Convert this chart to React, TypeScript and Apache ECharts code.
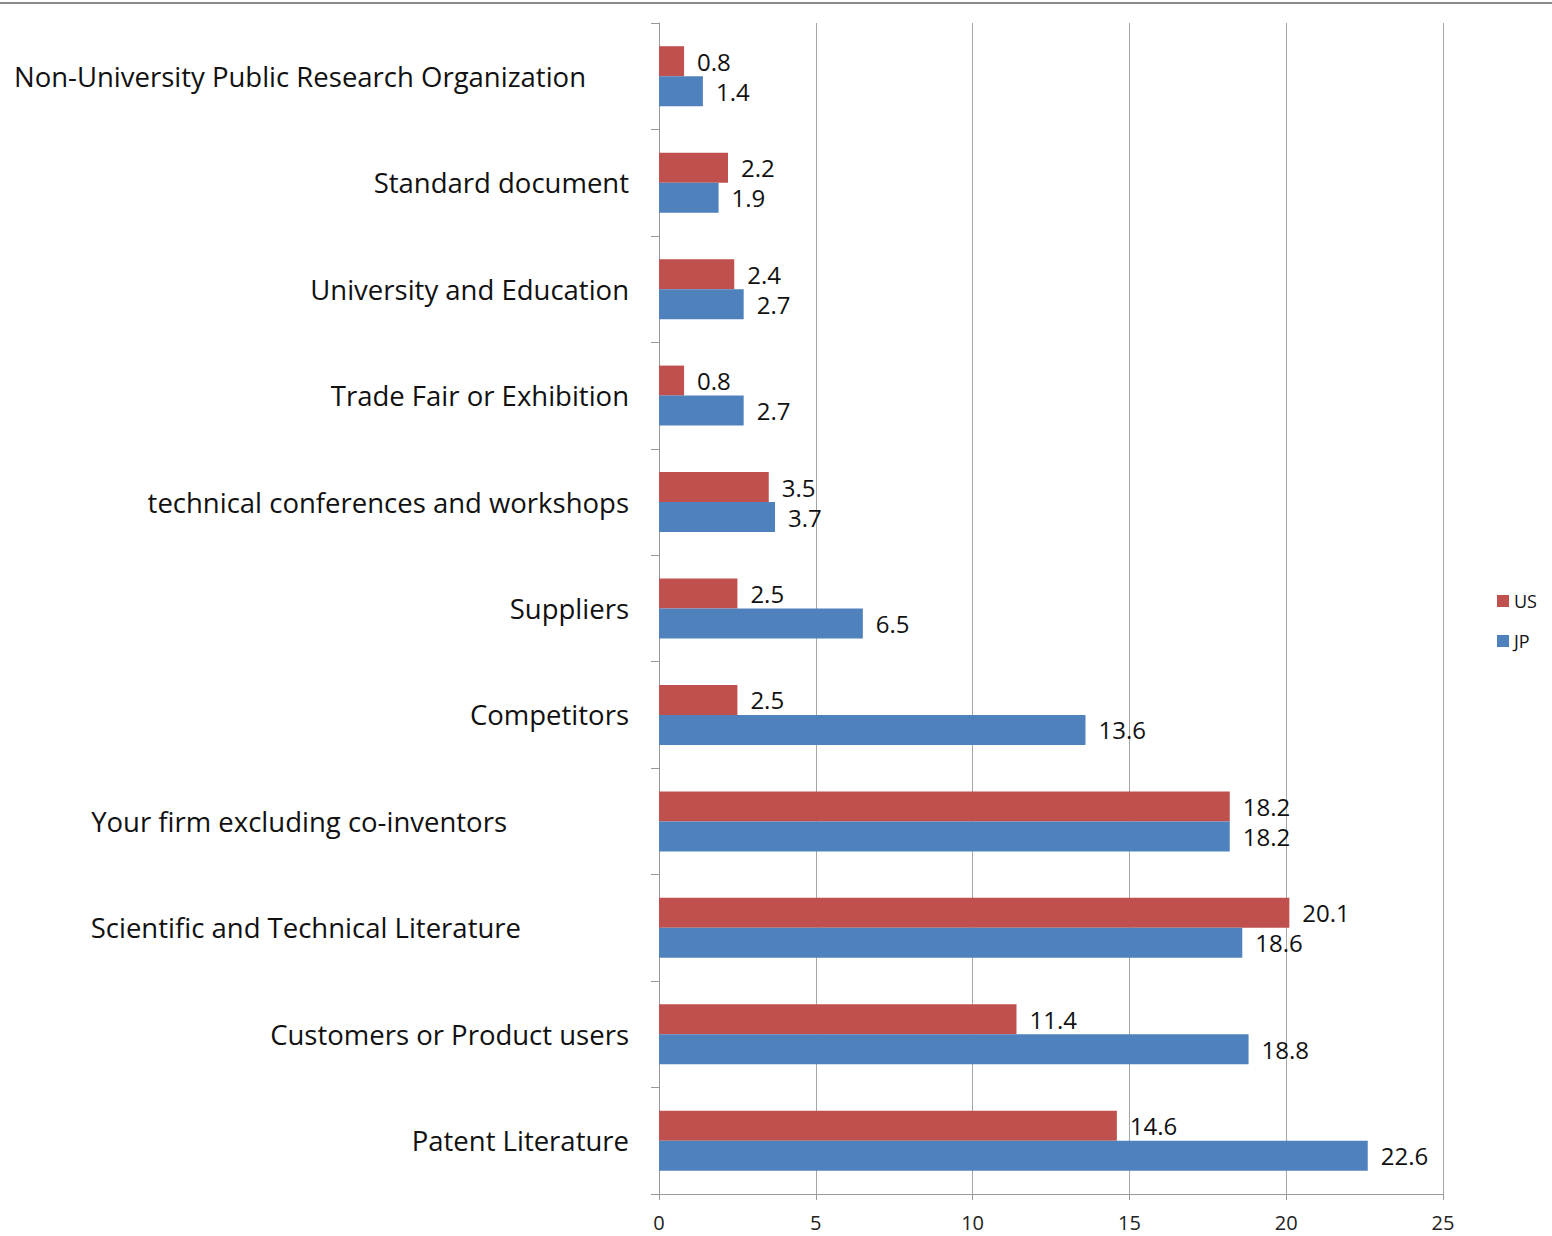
import React, { useEffect, useRef } from "react";
import * as echarts from "echarts";

const categories = [
  "Patent Literature",
  "Customers or Product users",
  "Scientific and Technical Literature",
  "Your firm excluding co-inventors",
  "Competitors",
  "Suppliers",
  "technical conferences and workshops",
  "Trade Fair or Exhibition",
  "University and Education",
  "Standard document",
  "Non-University Public Research Organization",
];
const usValues = [14.6, 11.4, 20.1, 18.2, 2.5, 2.5, 3.5, 0.8, 2.4, 2.2, 0.8];
const jpValues = [22.6, 18.8, 18.6, 18.2, 13.6, 6.5, 3.7, 2.7, 2.7, 1.9, 1.4];
const xTicks = [0, 5, 10, 15, 20, 25];

const labelPadKey: Record<string, string> = {
  "Non-University Public Research Organization": "p1",
  "Your firm excluding co-inventors": "p2",
  "Scientific and Technical Literature": "p3",
};

const FONT = "'Open Sans', 'Noto Sans', sans-serif";

export default function App() {
  const ref = useRef<HTMLDivElement>(null);
  useEffect(() => {
    if (!ref.current) return;
    const chart = echarts.init(ref.current, null, { renderer: "svg" });
    const labelStyle = (pad: number) => ({
      fontSize: 27.5,
      fontFamily: FONT,
      color: "#111",
      padding: [0, pad, 0, 0],
    });
    const valueLabel = {
      show: true,
      position: "right",
      distance: 13,
      fontSize: 24,
      fontFamily: FONT,
      color: "#111",
    };
    chart.setOption({
      animation: false,
      backgroundColor: "#fff",
      textStyle: { fontFamily: FONT },
      graphic: [
        {
          type: "line",
          shape: { x1: 0, y1: 3, x2: 1552, y2: 3 },
          style: { stroke: "#8a8a8a", lineWidth: 2 },
        },
      ],
      legend: {
        data: ["US", "JP"],
        orient: "vertical",
        left: 1492,
        top: 587,
        itemWidth: 12,
        itemHeight: 12,
        itemGap: 22,
        textStyle: { fontSize: 18, fontFamily: FONT, color: "#111" },
        icon: "rect",
      },
      grid: { left: 659, right: 109, top: 23, bottom: 42, containLabel: false },
      xAxis: {
        type: "value",
        min: xTicks[0],
        max: xTicks[xTicks.length - 1],
        interval: 5,
        axisLine: { show: true, lineStyle: { color: "#999", width: 1 } },
        axisTick: { show: true, length: 6, lineStyle: { color: "#999" } },
        splitLine: { show: true, lineStyle: { color: "#a6a6a6", width: 1 } },
        axisLabel: { fontSize: 20, fontFamily: FONT, color: "#222", margin: 18 },
      },
      yAxis: {
        type: "category",
        data: categories,
        axisLine: { show: true, lineStyle: { color: "#999", width: 1 } },
        axisTick: { show: true, length: 8, lineStyle: { color: "#999" } },
        axisLabel: {
          margin: 30,
          fontSize: 27.5,
          fontFamily: FONT,
          color: "#111",
          formatter: (v: string) => {
            const k = labelPadKey[v];
            return k ? `{${k}|${v}}` : `{p0|${v}}`;
          },
          rich: {
            p0: labelStyle(0),
            p1: labelStyle(43),
            p2: labelStyle(122),
            p3: labelStyle(108),
          },
        },
      },
      series: [
        {
          name: "US",
          type: "bar",
          data: usValues,
          barWidth: 30,
          barGap: "0%",
          itemStyle: { color: "#C0504D" },
          label: valueLabel,
        },
        {
          name: "JP",
          type: "bar",
          data: jpValues,
          barWidth: 30,
          barGap: "0%",
          itemStyle: { color: "#4F81BD" },
          label: valueLabel,
        },
      ],
    });
    return () => chart.dispose();
  }, []);
  return (
    <div
      ref={ref}
      style={{ position: "fixed", left: 0, top: 0, width: 1552, height: 1236 }}
    />
  );
}
